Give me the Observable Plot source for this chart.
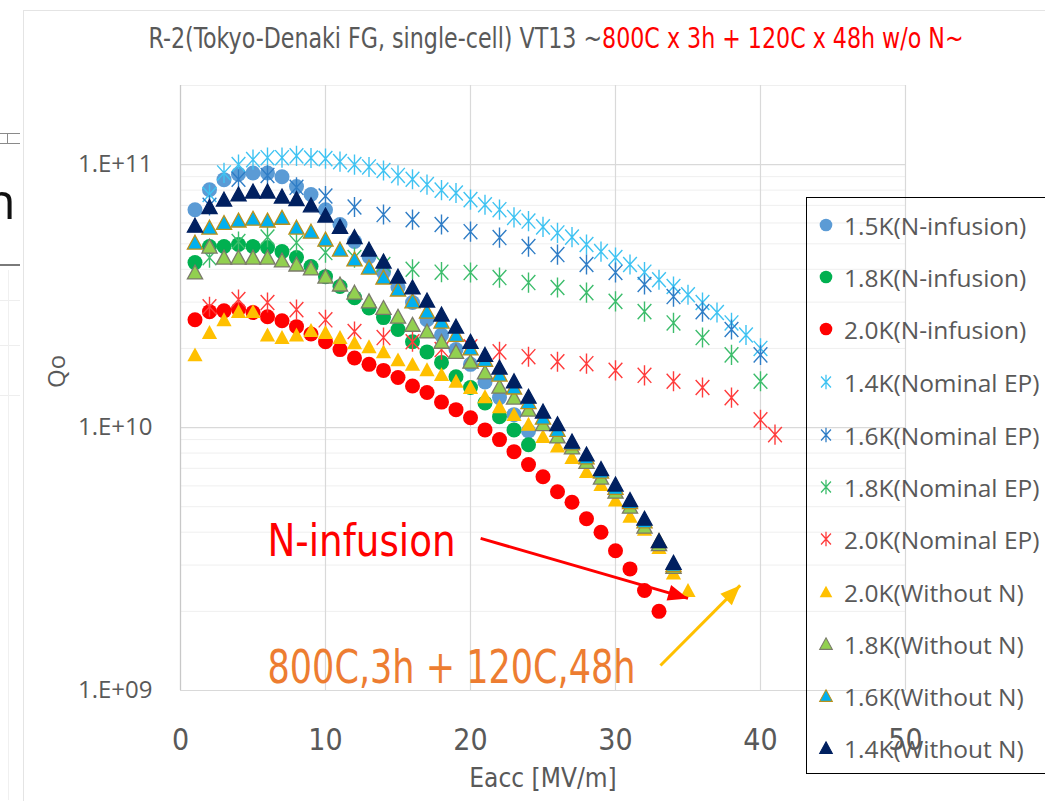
<!DOCTYPE html>
<html>
<head>
<meta charset="utf-8">
<script src="https://cdn.jsdelivr.net/npm/d3@7"></script>
<script src="https://cdn.jsdelivr.net/npm/@observablehq/plot@0.6"></script>
<style>
  html, body { margin: 0; padding: 0; background: #fff; }
  #wrap { position: relative; width: 1045px; height: 801px; overflow: hidden; background: #fff; }
  #chart { position: absolute; left: 0; top: 0; }
  #title { position: absolute; top: 22px; left: 556px; transform: translateX(-50%) scaleX(0.88); white-space: nowrap;
           font-family: "Liberation Sans Narrow", "DejaVu Sans Condensed", "Open Sans", sans-serif; font-stretch: condensed;
           font-size: 28px; line-height: 34px; color: #595959; }
  #title .red { color: #ff0000; }
  #legend { position: absolute; left: 806px; top: 197px; width: 260px; height: 577px; border: 1.5px solid #000; box-sizing: border-box; }
  .lrow { position: absolute; left: 0; height: 40px; display: flex; align-items: center; }
  .lrow svg { width: 30px; height: 30px; margin-left: 4px; }
  .lrow span { font-family: "Open Sans", sans-serif; font-size: 24.5px; color: #595959; margin-left: 3px; white-space: nowrap; }
  .art { position: absolute; }
</style>
</head>
<body>
<div id="wrap">
  <div class="art" style="left:23px;top:10px;width:1px;height:791px;background:#e4e4e4"></div>
  <div class="art" style="left:23px;top:10px;width:1022px;height:1px;background:#e4e4e4"></div>
  <div class="art" style="left:0;top:133px;width:20px;height:1px;background:#8a8a8a"></div>
  <div class="art" style="left:0;top:143px;width:20px;height:1px;background:#8a8a8a"></div>
  <div class="art" style="left:7px;top:133px;width:1px;height:10px;background:#8a8a8a"></div>
  <div class="art" style="left:0;top:264px;width:20px;height:2px;background:#7a7a7a"></div>
  <div class="art" style="left:-15px;top:170px;font-family:'Open Sans',sans-serif;font-size:50px;line-height:60px;color:#111">n</div>
  <div class="art" style="left:0;top:300px;width:20px;height:1px;background:#eeeeee"></div>
  <div class="art" style="left:0;top:345px;width:20px;height:1px;background:#eeeeee"></div>
  <div class="art" style="left:0;top:395px;width:20px;height:1px;background:#eeeeee"></div>
  <div class="art" style="left:8px;top:270px;width:1px;height:530px;background:#f0f0f0"></div>
  <div id="chart"></div>
  <div id="title">R-2(Tokyo-Denaki FG, single-cell) VT13 ~<span class="red">800C x 3h + 120C x 48h w/o N~</span></div>
  <div id="legend"></div>
</div>
<script>
// ---------- data ----------
const xTicks = [0, 10, 20, 30, 40, 50];
const yTicks = [1e9, 1e10, 1e11];
const yTickLabels = ["1.E+09", "1.E+10", "1.E+11"];
const yMinor = [2e9,3e9,4e9,5e9,6e9,7e9,8e9,9e9,2e10,3e10,4e10,5e10,6e10,7e10,8e10,9e10,2e11];

const seriesNames = [
  "1.5K(N-infusion)", "1.8K(N-infusion)", "2.0K(N-infusion)",
  "1.4K(Nominal EP)", "1.6K(Nominal EP)", "1.8K(Nominal EP)", "2.0K(Nominal EP)",
  "2.0K(Without N)", "1.8K(Without N)", "1.6K(Without N)", "1.4K(Without N)"
];

const e1to24 = [1,2,3,4,5,6,7,8,9,10,11,12,13,14,15,16,17,18,19,20,21,22,23,24];
const e1to33 = [1,2,3,4,5,6,7,8,9,10,11,12,13,14,15,16,17,18,19,20,21,22,23,24,25,26,27,28,29,30,31,32,33];
const e1to34 = [1,2,3,4,5,6,7,8,9,10,11,12,13,14,15,16,17,18,19,20,21,22,23,24,25,26,27,28,29,30,31,32,33,34];
const e1to35 = [1,2,3,4,5,6,7,8,9,10,11,12,13,14,15,16,17,18,19,20,21,22,23,24,25,26,27,28,29,30,31,32,33,34,35];
const e2to40 = [2,3,4,5,6,7,8,9,10,11,12,13,14,15,16,17,18,19,20,21,22,23,24,25,26,27,28,29,30,31,32,33,34,35,36,37,38,39,40];
const eEven = [2,4,6,8,10,12,14,16,18,20,22,24,26,28,30,32,34,36,38,40];
const eEven41 = [2,4,6,8,10,12,14,16,18,20,22,24,26,28,30,32,34,36,38,40,41];

const q15N = [6.74e10,8.03e10,8.77e10,9.2e10,9.3e10,9.3e10,9.0e10,8.25e10,7.7e10,6.74e10,5.92e10,5.1e10,4.47e10,3.89e10,3.41e10,2.99e10,2.57e10,2.25e10,1.98e10,1.74e10,1.49e10,1.30e10,1.12e10,9.7e9];
const q18N = [4.24e10,4.88e10,4.88e10,4.97e10,4.88e10,4.84e10,4.67e10,4.43e10,4.1e10,3.75e10,3.44e10,3.12e10,2.85e10,2.62e10,2.36e10,2.12e10,1.94e10,1.77e10,1.56e10,1.42e10,1.24e10,1.10e10,9.8e9,8.6e9];
const q20N = [2.57e10,2.76e10,2.78e10,2.81e10,2.74e10,2.64e10,2.55e10,2.42e10,2.27e10,2.12e10,1.98e10,1.84e10,1.74e10,1.65e10,1.55e10,1.44e10,1.36e10,1.25e10,1.17e10,1.09e10,9.8e9,9.0e9,8.1e9,7.23e9,6.5e9,5.7e9,5.2e9,4.5e9,4.0e9,3.4e9,2.9e9,2.4e9,2.0e9];
const q14EP = [7.7e10,9.3e10,1.0e11,1.045e11,1.063e11,1.063e11,1.08e11,1.06e11,1.054e11,1.027e11,1.0e11,9.8e10,9.5e10,9.1e10,8.8e10,8.4e10,8.0e10,7.8e10,7.36e10,7.04e10,6.74e10,6.3e10,6.1e10,5.8e10,5.5e10,5.3e10,4.97e10,4.67e10,4.43e10,4.17e10,3.9e10,3.65e10,3.44e10,3.2e10,2.99e10,2.74e10,2.5e10,2.25e10,2.0e10];
const q16EP = [7.0e10,8.8e10,9.1e10,8.2e10,7.6e10,6.9e10,6.46e10,6.18e10,5.92e10,5.56e10,5.28e10,4.88e10,4.55e10,4.17e10,3.89e10,3.5e10,3.15e10,2.76e10,2.36e10,1.89e10];
const q18EP = [4.43e10,5.1e10,5.3e10,5.05e10,4.63e10,4.43e10,4.17e10,4.0e10,3.9e10,3.89e10,3.72e10,3.56e10,3.41e10,3.26e10,3.02e10,2.76e10,2.5e10,2.2e10,1.89e10,1.5e10];
const q20EP = [2.88e10,3.07e10,2.99e10,2.81e10,2.57e10,2.32e10,2.2e10,2.12e10,1.98e10,2.03e10,1.94e10,1.86e10,1.78e10,1.75e10,1.65e10,1.58e10,1.5e10,1.42e10,1.3e10,1.07e10,9.4e9];
const q20W = [1.89e10,2.3e10,2.57e10,2.76e10,2.76e10,2.25e10,2.2e10,2.25e10,2.34e10,2.3e10,2.2e10,2.1e10,2.03e10,1.94e10,1.81e10,1.74e10,1.66e10,1.59e10,1.5e10,1.42e10,1.31e10,1.2e10,1.12e10,1.03e10,9.25e9,8.5e9,7.7e9,6.8e9,6.07e9,5.3e9,4.6e9,4.1e9,3.5e9,2.8e9,2.4e9];
const q18W = [3.89e10,4.88e10,4.43e10,4.43e10,4.43e10,4.43e10,4.32e10,4.17e10,4.03e10,3.75e10,3.5e10,3.26e10,3.02e10,2.85e10,2.64e10,2.46e10,2.32e10,2.12e10,1.94e10,1.78e10,1.62e10,1.43e10,1.3e10,1.17e10,1.03e10,9.25e9,8.4e9,7.4e9,6.45e9,5.7e9,5.0e9,4.2e9,3.6e9,2.95e9];
const q16W = [5.05e10,5.76e10,6.0e10,6.13e10,6.23e10,6.13e10,6.28e10,5.76e10,5.56e10,5.19e10,4.75e10,4.36e10,4.06e10,3.72e10,3.35e10,3.02e10,2.76e10,2.53e10,2.25e10,2.0e10,1.81e10,1.59e10,1.42e10,1.25e10,1.09e10,9.8e9,8.7e9,7.7e9,6.8e9,5.9e9,5.2e9,4.4e9,3.7e9,3.0e9];
const q14W = [5.86e10,6.9e10,7.36e10,7.7e10,7.9e10,7.9e10,7.56e10,7.4e10,7.0e10,6.4e10,5.8e10,5.3e10,4.75e10,4.28e10,3.75e10,3.41e10,3.04e10,2.69e10,2.42e10,2.12e10,1.89e10,1.69e10,1.5e10,1.31e10,1.15e10,1.03e10,8.85e9,7.9e9,6.95e9,6.07e9,5.3e9,4.5e9,3.7e9,3.06e9];

const seriesE = [e1to24, e1to24, e1to33, e2to40, eEven, eEven, eEven41, e1to35, e1to34, e1to34, e1to34];
const seriesQ = [q15N, q18N, q20N, q14EP, q16EP, q18EP, q20EP, q20W, q18W, q16W, q14W];

// annotations (data coordinates)
const noteTexts = ["N-infusion", "800C,3h + 120C,48h"];
const noteE = [6.0, 6.0];
const noteQ = [3.69e9, 1.22e9];
const arrowE1 = [20.7, 33.1];
const arrowQ1 = [3.79e9, 1.245e9];
const arrowE2 = [35.0, 38.6];
const arrowQ2 = [2.24e9, 2.51e9];

// ---------- styles ----------
const kinds = ["circle","circle","circle","star","star","star","star","tri","tri","tri","tri"];
const fills = ["#5b9bd5","#00b050","#ff0000","none","none","none","none","#ffc000","#92d050","#00b0f0","#002060"];
const strokes = ["none","none","none","#3fc3f2","#2f7dc6","#3dbd6c","#ff3c3c","none","#7b7b6a","#b8901a","#002060"];
const noteColors = ["#ff0000", "#ed7d31"];
const noteSizes = [44, 46];
const noteLengths = [188, 368];
const arrowColors = ["#ff0000", "#ffc000"];

const star = { draw(ctx, size) { const r = Math.sqrt(size / Math.PI);
  ctx.moveTo(-0.95*r, -1.05*r); ctx.lineTo(0.95*r, 1.05*r);
  ctx.moveTo(0.95*r, -1.05*r); ctx.lineTo(-0.95*r, 1.05*r);
  ctx.moveTo(0, -1.4*r); ctx.lineTo(0, 1.4*r); } };
const tri = { draw(ctx, size) { const r = Math.sqrt(size / Math.PI);
  ctx.moveTo(0, -0.98*r); ctx.lineTo(r, 0.85*r); ctx.lineTo(-r, 0.85*r); ctx.closePath(); } };
const head = { draw(ctx, size) { const r = Math.sqrt(size / Math.PI);
  ctx.moveTo(0, 0); ctx.lineTo(0.85*r, 2.1*r); ctx.lineTo(-0.85*r, 2.1*r); ctx.closePath(); } };

const W = 1045, H = 801, mL = 180, mR = 140, mT = 85, mB = 111;
const xDomain = [0, 50], yDomain = [1e9, 2e11];

const seriesMarks = seriesNames.map((name, i) => {
  const rows = seriesE[i].map((e, j) => ({e, q: seriesQ[i][j]}));
  const k = kinds[i];
  if (k === "star") return Plot.dot(rows, {x: "e", y: "q", r: 7.2, symbol: star, fill: "none", stroke: strokes[i], strokeWidth: 1.4});
  if (k === "circle") return Plot.dot(rows, {x: "e", y: "q", r: 7.5, symbol: "circle", fill: fills[i], stroke: "none"});
  return Plot.dot(rows, {x: "e", y: "q", r: 7.6, symbol: tri, fill: fills[i], stroke: strokes[i], strokeWidth: strokes[i] === "none" ? 0 : 1.3});
});

// arrow angle in screen space
const xs = Plot.scale({x: {domain: xDomain, range: [mL, W - mR]}});
const ys = Plot.scale({y: {type: "log", domain: yDomain, range: [H - mB, mT]}});
const arrows = noteTexts.map((_, i) => {
  const dx = xs.apply(arrowE2[i]) - xs.apply(arrowE1[i]);
  const dy = ys.apply(arrowQ2[i]) - ys.apply(arrowQ1[i]);
  return {e1: arrowE1[i], q1: arrowQ1[i], e2: arrowE2[i], q2: arrowQ2[i], color: arrowColors[i],
          angle: Math.atan2(dy, dx) * 180 / Math.PI + 90};
});

const narrow = "'Liberation Sans Narrow', 'DejaVu Sans Condensed', 'Open Sans', sans-serif";

const plot = Plot.plot({
  width: W, height: H, marginLeft: mL, marginRight: mR, marginTop: mT, marginBottom: mB,
  style: {color: "#595959", background: "transparent", overflow: "visible"},
  x: {domain: xDomain, axis: null},
  y: {type: "log", domain: yDomain, axis: null},
  marks: [
    Plot.ruleY(yMinor, {y: d => d, stroke: "#efefef", strokeWidth: 1}),
    Plot.ruleY(yTicks, {y: d => d, stroke: "#d9d9d9", strokeWidth: 1.2}),
    Plot.ruleX(xTicks.slice(1), {x: d => d, stroke: "#d9d9d9", strokeWidth: 1.2}),
    Plot.ruleX([0], {x: d => d, stroke: "#c8c8c8", strokeWidth: 1.3}),
    Plot.text(xTicks, {x: d => d, frameAnchor: "bottom", dy: 50, text: d => String(d), fontSize: 30,
      fontFamily: narrow, fill: "#595959", lineAnchor: "middle"}),
    Plot.text(yTicks, {y: d => d, frameAnchor: "left", dx: -28, text: (d, i) => yTickLabels[i], fontSize: 24,
      fontFamily: "'Open Sans', sans-serif", fill: "#595959", textAnchor: "end", lineAnchor: "middle"}),
    Plot.text(["Qo"], {frameAnchor: "left", dx: -123, rotate: -90, text: d => d, fontSize: 24,
      fontFamily: "'Open Sans', sans-serif", fill: "#595959"}),
    Plot.text(["Eacc [MV/m]"], {frameAnchor: "bottom", dy: 88, text: d => d, fontSize: 26,
      fontFamily: narrow, fill: "#595959", lineAnchor: "middle"}),
    ...seriesMarks,
    ...noteTexts.map((t, i) => Plot.text([t], {x: () => noteE[i], y: () => noteQ[i], text: d => d, fill: noteColors[i],
      fontSize: noteSizes[i], fontFamily: narrow, textAnchor: "start", lineAnchor: "middle"})),
    Plot.link(arrows, {x1: "e1", y1: "q1", x2: "e2", y2: "q2", stroke: "color", strokeWidth: 3}),
    Plot.dot(arrows, {x: "e2", y: "q2", symbol: head, r: 9.5, fill: "color", stroke: "none", rotate: "angle"})
  ]
});
// fit annotation text widths to the reference
d3.select(plot).selectAll("text").each(function() {
  const i = noteTexts.indexOf(this.textContent);
  if (i >= 0) { this.setAttribute("textLength", noteLengths[i]); this.setAttribute("lengthAdjust", "spacingAndGlyphs"); }
});
document.getElementById("chart").appendChild(plot);

// ---------- legend ----------
const legend = document.getElementById("legend");
const rowTop = [224, 276, 328, 381, 434, 486, 538, 591, 643, 695, 747];
seriesNames.forEach((name, i) => {
  const row = document.createElement("div");
  row.className = "lrow";
  row.style.top = (rowTop[i] - 197 - 20) + "px";
  const svg = d3.create("svg").attr("viewBox", "-15 -15 30 30");
  const k = kinds[i];
  if (k === "circle") svg.append("circle").attr("r", 6.3).attr("fill", fills[i]);
  else if (k === "star") svg.append("path").attr("d", d3.symbol(star, Math.PI * 5.2 * 5.2)()).attr("fill", "none").attr("stroke", strokes[i]).attr("stroke-width", 1.3);
  else svg.append("path").attr("d", d3.symbol(tri, Math.PI * 6.3 * 6.3)()).attr("fill", fills[i]).attr("stroke", strokes[i]).attr("stroke-width", strokes[i] === "none" ? 0 : 1.1);
  row.appendChild(svg.node());
  const span = document.createElement("span");
  span.textContent = name;
  row.appendChild(span);
  legend.appendChild(row);
});
</script>
</body>
</html>
